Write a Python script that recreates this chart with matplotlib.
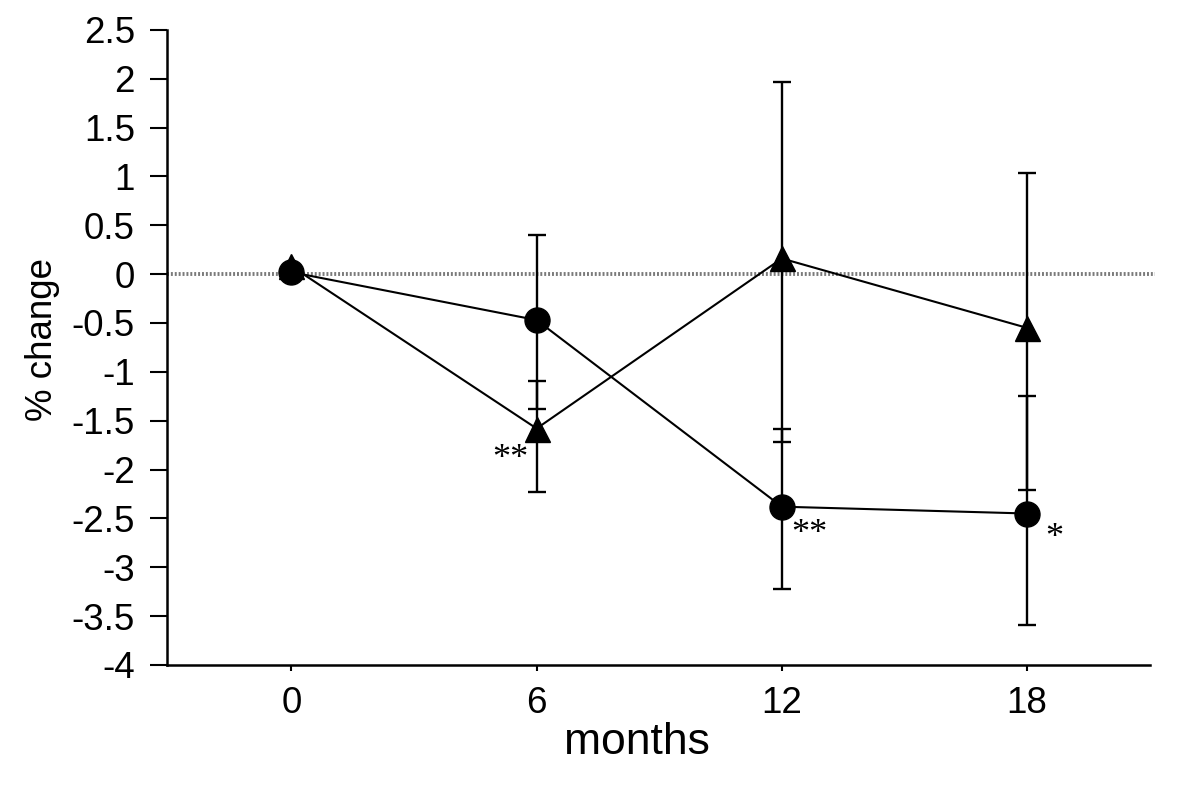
import matplotlib
matplotlib.use("Agg")
import matplotlib.pyplot as plt
import numpy as np

months = [0, 6, 12, 18]
xtick_labels = ["0", "6", "12", "18"]
yticks = [2.5, 2, 1.5, 1, 0.5, 0, -0.5, -1, -1.5, -2, -2.5, -3, -3.5, -4]

circle_vals = [0.02, -0.47, -2.38, -2.45]
circle_err_low = [0.0, 0.91, 0.84, 1.14]
circle_err_high = [0.0, 0.87, 0.80, 1.20]

tri_vals = [0.08, -1.58, 0.16, -0.55]
tri_err_low = [0.0, 0.65, 1.88, 1.66]
tri_err_high = [0.0, 0.49, 1.81, 1.59]

annotations = [("tri", 1, "**"), ("circ", 2, "**"), ("circ", 3, "*")]
annot_offsets = [(-19, -22), (20, -20), (20, -18)]

plt.rcParams['font.family'] = ['Liberation Sans', 'DejaVu Sans']

fig = plt.figure(figsize=(12, 7.86), dpi=100)
ax = fig.add_axes([0.139, 0.154, 0.819, 0.808])

ax.axhline(0, xmin=0, xmax=1.005, color='#7a7a7a', lw=2.8, linestyle=(0, (0.5, 0.5)),
           clip_on=False, zorder=1)

ax.errorbar(months, tri_vals, yerr=[tri_err_low, tri_err_high], fmt='^-', color='black',
            ms=18, lw=1.5, elinewidth=1.7, capsize=6.5, capthick=1.7, zorder=2)
ax.errorbar(months, circle_vals, yerr=[circle_err_low, circle_err_high], fmt='o-', color='black',
            ms=18, lw=1.5, elinewidth=1.7, capsize=6.5, capthick=1.7, zorder=3)

series = {"tri": tri_vals, "circ": circle_vals}
for (key, idx, txt), (dx, dy) in zip(annotations, annot_offsets):
    ax.annotate(txt, (months[idx], series[key][idx]), xytext=(dx, dy), textcoords='offset points',
                ha='center', va='center', fontsize=26, family='Liberation Serif')

ax.set_xlim(-3.05, 21.0)
ax.set_ylim(-4, 2.5)
ax.set_xticks(months)
ax.set_xticklabels(xtick_labels)
ax.set_yticks(yticks)
ax.set_yticklabels([f"{v:g}" for v in yticks])

for s in ['top', 'right']:
    ax.spines[s].set_visible(False)
for s in ['left', 'bottom']:
    ax.spines[s].set_linewidth(1.8)

ax.tick_params(axis='y', direction='out', length=12, width=1.5, pad=11, labelsize=26.5)
ax.tick_params(axis='x', direction='out', length=4, width=1.5, pad=11, labelsize=26.5)

ax.set_xlabel("months", fontsize=32)
ax.xaxis.set_label_coords(0.478, -0.09)
ax.set_ylabel("% change", fontsize=26.5)
ax.yaxis.set_label_coords(-0.109, 0.512)

fig.savefig("out.png", dpi=100, facecolor='white')
